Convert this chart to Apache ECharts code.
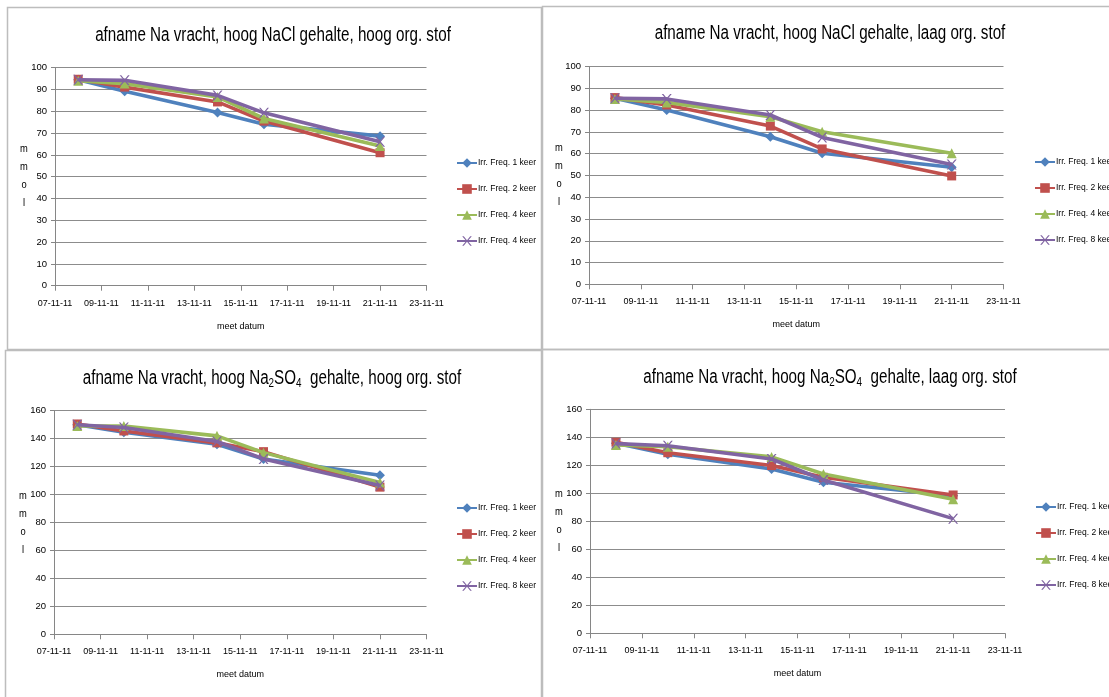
<!DOCTYPE html>
<html>
<head>
<meta charset="utf-8">
<script src="https://cdn.jsdelivr.net/npm/echarts@6/dist/echarts.min.js"></script>
<style>
html,body{margin:0;padding:0;background:#fff;}
#c{width:1109px;height:697px;}
</style>
</head>
<body>
<div id="c"></div>
<script>
// ---------------- data ----------------
const axisStart = '2011-11-07';
const axisEnd = '2011-11-23';
const dates = ['2011-11-08', '2011-11-10', '2011-11-14', '2011-11-16', '2011-11-21'];
const seriesNames = ['Irr. Freq. 1 keer', 'Irr. Freq. 2 keer', 'Irr. Freq. 4 keer', 'Irr. Freq. 8 keer'];
const legendLabelsA = ['Irr. Freq. 1 keer', 'Irr. Freq. 2 keer', 'Irr. Freq. 4 keer', 'Irr. Freq. 4 keer'];
const legendLabelsB = ['Irr. Freq. 1 keer', 'Irr. Freq. 2 keer', 'Irr. Freq. 4 keer', 'Irr. Freq. 8 keer'];
const xAxisTitle = 'meet datum';
const yAxisTitle = ['m', 'm', 'o', 'l'];

// panel 1: hoog NaCl, hoog org. stof
const nacl_hoog_f1 = [94.5, 89.2, 79.5, 74.1, 68.6];
const nacl_hoog_f2 = [94.7, 91.1, 84.3, 75.5, 61.0];
const nacl_hoog_f4 = [94.0, 92.7, 86.6, 76.7, 64.1];
const nacl_hoog_f8 = [94.5, 94.2, 87.3, 79.3, 66.0];
// panel 2: hoog NaCl, laag org. stof
const nacl_laag_f1 = [85.5, 80.1, 67.8, 60.2, 53.8];
const nacl_laag_f2 = [85.8, 82.4, 72.7, 62.2, 49.8];
const nacl_laag_f4 = [85.2, 83.6, 77.0, 70.1, 60.2];
const nacl_laag_f8 = [85.5, 85.2, 77.8, 67.5, 55.1];
// panel 3: hoog Na2SO4, hoog org. stof
const so4_hoog_f1 = [150.0, 144.6, 136.0, 125.5, 113.8];
const so4_hoog_f2 = [150.5, 145.5, 137.0, 130.7, 105.3];
const so4_hoog_f4 = [149.0, 149.0, 142.0, 130.0, 108.6];
const so4_hoog_f8 = [150.0, 148.0, 138.0, 125.5, 106.5];
// panel 4: hoog Na2SO4, laag org. stof
const so4_laag_f1 = [135.7, 127.9, 117.4, 107.9, 98.3];
const so4_laag_f2 = [136.5, 129.0, 119.8, 111.4, 98.8];
const so4_laag_f4 = [134.5, 133.3, 126.0, 113.8, 95.7];
const so4_laag_f8 = [135.5, 134.0, 124.5, 109.5, 81.9];

const yMaxNaCl = 100, yStepNaCl = 10;
const yMaxSO4 = 160, yStepSO4 = 20;
const xStepDays = 2;

// ---------------- build ----------------
const DAY = 86400000;
const t0 = Date.parse(axisStart);
const dayOf = d => (Date.parse(d) - t0) / DAY;
const pad = n => (n < 10 ? '0' : '') + n;
const fmtDate = v => {
  const d = new Date(t0 + v * DAY);
  return pad(d.getUTCDate()) + '-' + pad(d.getUTCMonth() + 1) + '-' + String(d.getUTCFullYear()).slice(2);
};

const FONT = '"Liberation Sans", Arial, sans-serif';
const colors = ['#4F81BD', '#C0504D', '#9BBB59', '#8064A2'];
const xPath = 'path://M0,0L1.6,0L5,4.1L8.4,0L10,0L5.8,5L10,10L8.4,10L5,5.9L1.6,10L0,10L4.2,5Z';
const symbols = ['diamond', 'rect', 'triangle', xPath];
const symSizes = [10, 9, 10, 10];

const panels = [
  { grid: { left: 55, top: 67.7, width: 371.5, height: 218 }, yMax: yMaxNaCl, yStep: yStepNaCl,
    data: [nacl_hoog_f1, nacl_hoog_f2, nacl_hoog_f4, nacl_hoog_f8], legend: legendLabelsA,
    legendPos: { left: 456, top: 157 }, title: { x: 273, y: 35 }, mmol: { x: 24, y: 149 },
    titleRich: '{a|afname Na vracht, hoog NaCl gehalte, hoog org. stof}' },
  { grid: { left: 589, top: 66.7, width: 414.5, height: 217.6 }, yMax: yMaxNaCl, yStep: yStepNaCl,
    data: [nacl_laag_f1, nacl_laag_f2, nacl_laag_f4, nacl_laag_f8], legend: legendLabelsB,
    legendPos: { left: 1034, top: 156 }, title: { x: 830, y: 33 }, mmol: { x: 559, y: 148 },
    titleRich: '{a|afname Na vracht, hoog NaCl gehalte, laag org. stof}' },
  { grid: { left: 54, top: 410.7, width: 372.5, height: 223.6 }, yMax: yMaxSO4, yStep: yStepSO4,
    data: [so4_hoog_f1, so4_hoog_f2, so4_hoog_f4, so4_hoog_f8], legend: legendLabelsB,
    legendPos: { left: 456, top: 502 }, title: { x: 272, y: 378 }, mmol: { x: 23, y: 496 },
    titleRich: '{a|afname Na vracht, hoog Na}{s|2}{a|SO}{s|4}{a|  gehalte, hoog org. stof}' },
  { grid: { left: 590, top: 409.3, width: 415, height: 224 }, yMax: yMaxSO4, yStep: yStepSO4,
    data: [so4_laag_f1, so4_laag_f2, so4_laag_f4, so4_laag_f8], legend: legendLabelsB,
    legendPos: { left: 1035, top: 501 }, title: { x: 830, y: 377 }, mmol: { x: 559, y: 494 },
    titleRich: '{a|afname Na vracht, hoog Na}{s|2}{a|SO}{s|4}{a|  gehalte, laag org. stof}' }
];

const grids = [], xAxes = [], yAxes = [], series = [], legends = [], graphics = [];

// panel borders
const boxes = [[7, 7, 534, 342], [542, 6, 580, 343], [5, 350, 536, 360], [542, 349, 580, 360]];
boxes.forEach(b => graphics.push({ type: 'rect', z: -1, shape: { x: b[0] + 0.5, y: b[1] + 0.5, width: b[2], height: b[3] },
  style: { fill: 'none', stroke: '#bdbdbd', lineWidth: 1.5 } }));

panels.forEach((p, pi) => {
  grids.push(Object.assign({ containLabel: false }, p.grid));
  xAxes.push({
    type: 'value', gridIndex: pi, min: 0, max: dayOf(axisEnd), interval: xStepDays,
    name: xAxisTitle, nameLocation: 'middle', nameGap: 36,
    nameTextStyle: { fontFamily: FONT, fontSize: 9, color: '#000' },
    axisLine: { show: true, onZero: false, lineStyle: { color: '#868686', width: 1 } },
    axisTick: { show: true, length: 5, lineStyle: { color: '#868686' } },
    axisLabel: { fontFamily: FONT, fontSize: 9, color: '#000', margin: 13, formatter: fmtDate,
      showMinLabel: true, showMaxLabel: true, hideOverlap: false },
    splitLine: { show: false }
  });
  yAxes.push({
    type: 'value', gridIndex: pi, min: 0, max: p.yMax, interval: p.yStep,
    axisLine: { show: true, lineStyle: { color: '#868686', width: 1 } },
    axisTick: { show: true, length: 4, lineStyle: { color: '#868686' } },
    axisLabel: { fontFamily: FONT, fontSize: 9.5, color: '#000', margin: 8 },
    splitLine: { show: true, lineStyle: { color: '#8c8c8c', width: 1.2 } }
  });
  const names = [];
  p.data.forEach((vals, si) => {
    const nm = 'p' + pi + ':' + seriesNames[si];
    names.push(nm);
    series.push({
      type: 'line', name: nm, xAxisIndex: pi, yAxisIndex: pi,
      data: dates.map((d, i) => [dayOf(d), vals[i]]),
      symbol: symbols[si], symbolSize: symSizes[si], showSymbol: true,
      lineStyle: { color: colors[si], width: 3.6 },
      itemStyle: { color: colors[si] },
      emphasis: { disabled: true }, animation: false, z: 2 + si
    });
  });
  const labels = p.legend;
  legends.push({
    orient: 'vertical', left: p.legendPos.left, top: p.legendPos.top,
    data: names, itemWidth: 20, itemHeight: 12, itemGap: 14, padding: 0,
    textStyle: { fontFamily: FONT, fontSize: 8.5, lineHeight: 12, color: '#000', padding: [0, 0, 0, -4] },
    formatter: name => labels[names.indexOf(name)], selectedMode: false
  });
  // title (condensed like the original)
  graphics.push({
    type: 'text', x: p.title.x, y: p.title.y, scaleX: 0.76,
    style: {
      text: p.titleRich, align: 'center', verticalAlign: 'middle',
      rich: {
        a: { fontFamily: FONT, fontSize: 20, fill: '#000', lineHeight: 24 },
        s: { fontFamily: FONT, fontSize: 13, fill: '#000', lineHeight: 16, padding: [10, 0, 0, 0] }
      }
    }
  });
  // vertical "m m o l"
  yAxisTitle.forEach((ch, i) => {
    graphics.push({ type: 'text', x: p.mmol.x, y: p.mmol.y + i * 18, scaleX: 0.85,
      style: { text: ch, fontFamily: FONT, fontSize: 11, fill: '#000', align: 'center', verticalAlign: 'middle' } });
  });
});

const chart = echarts.init(document.getElementById('c'), null, { renderer: 'canvas' });
chart.setOption({
  animation: false,
  backgroundColor: '#fff',
  grid: grids, xAxis: xAxes, yAxis: yAxes, series: series, legend: legends,
  graphic: graphics
});
</script>
</body>
</html>
